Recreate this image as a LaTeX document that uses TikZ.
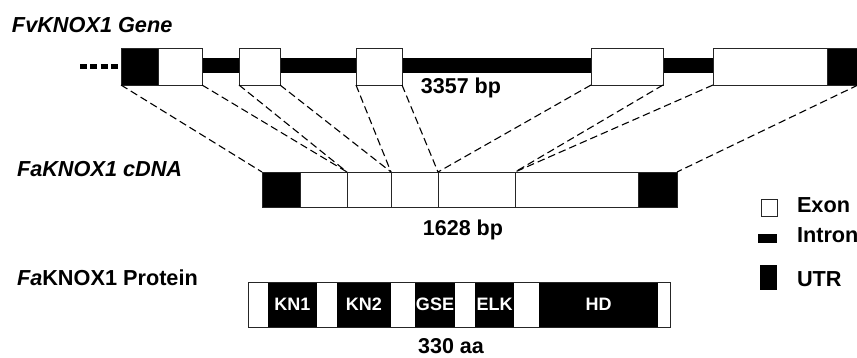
\documentclass[tikz,border=0pt]{standalone}
\usepackage{fontspec}
\setmainfont{Liberation Sans}
\usetikzlibrary{positioning}

\begin{document}
\begin{tikzpicture}[
    x=1pt, y=-1pt,
    every node/.style={inner sep=0pt, outer sep=0pt},
    gbox/.style={draw=black!85, line width=0.9pt, fill=white, anchor=north west, minimum height=37pt},
    cbox/.style={draw=black!85, line width=0.9pt, fill=white, minimum height=35pt},
    utr/.style={fill=black},
    pseg/.style={minimum height=45pt, font=\fontsize{18}{20}\selectfont\bfseries},
    dom/.style={pseg, fill=black, text=white},
    gap/.style={pseg, fill=white},
    title/.style={anchor=base west, font=\fontsize{21.7}{24}\selectfont\bfseries},
    len/.style={anchor=base, font=\fontsize{21.5}{24}\selectfont\bfseries},
    map/.style={dash pattern=on 7.5pt off 4pt, line width=1.1pt},
    dots/.style={dash pattern=on 7pt off 3.3pt, line width=5pt}
]
    \useasboundingbox (0,0) rectangle (857,357);

    % genomic gene
    \node[title] (gtitle) at (12,32) {\itshape FvKNOX1 Gene};
    \node[fill=black, anchor=north west, minimum width=670pt, minimum height=15pt] (intron) at (158,58) {};
    \node[gbox, utr, minimum width=37pt] (gu1) at (121,48) {};
    \node[gbox, minimum width=44pt] (ge1) at (158,48) {};
    \node[gbox, minimum width=41pt] (ge2) at (239,48) {};
    \node[gbox, minimum width=46pt] (ge3) at (356,48) {};
    \node[gbox, minimum width=72pt] (ge4) at (591,48) {};
    \node[gbox, minimum width=114pt] (ge5) at (713,48) {};
    \node[gbox, utr, minimum width=31pt] (gu2) at (827,48) {};
    \coordinate (upstream) at (80,66.5);
    \draw[dots] (upstream) -- (gu1.west);
    \node[len] (glen) at (461,93) {3357 bp};

    % cDNA
    \node[title] (ctitle) at (17,176) {\itshape FaKNOX1 cDNA};
    \node[cbox, utr, anchor=north west, minimum width=38pt] (cu1) at (262,172) {};
    \node[cbox, minimum width=47pt, right=0pt of cu1] (ce1) {};
    \node[cbox, minimum width=44pt, right=0pt of ce1] (ce2) {};
    \node[cbox, minimum width=47pt, right=0pt of ce2] (ce3) {};
    \node[cbox, minimum width=77pt, right=0pt of ce3] (ce4) {};
    \node[cbox, minimum width=123pt, right=0pt of ce4] (ce5) {};
    \node[cbox, utr, minimum width=39pt, right=0pt of ce5] (cu2) {};
    \node[len] (clen) at (463,235) {1628 bp};

    % exon mapping
    \draw[map] (gu1.south west) -- (cu1.north west);
    \draw[map] (ge1.south east) -- (ce2.north west);
    \draw[map] (ge2.south west) -- (ce2.north west);
    \draw[map] (ge2.south east) -- (ce3.north west);
    \draw[map] (ge3.south west) -- (ce3.north west);
    \draw[map] (ge3.south east) -- (ce4.north west);
    \draw[map] (ge4.south west) -- (ce4.north west);
    \draw[map] (ge4.south east) -- (ce5.north west);
    \draw[map] (ge5.south west) -- (ce5.north west);
    \draw[map] (gu2.south east) -- (cu2.north east);

    % protein
    \node[title] (ptitle) at (17,285) {{\itshape Fa}KNOX1 Protein};
    \node[gap, anchor=north west, minimum width=20pt] (pw0) at (248,282) {};
    \node[dom, minimum width=49pt, right=0pt of pw0] (kn1) {KN1};
    \node[gap, minimum width=20pt, right=0pt of kn1] (pw1) {};
    \node[dom, minimum width=54pt, right=0pt of pw1] (kn2) {KN2};
    \node[gap, minimum width=24pt, right=0pt of kn2] (pw2) {};
    \node[dom, minimum width=40pt, right=0pt of pw2] (gse) {GSE};
    \node[gap, minimum width=20pt, right=0pt of gse] (pw3) {};
    \node[dom, minimum width=39pt, right=0pt of pw3] (elk) {ELK};
    \node[gap, minimum width=25pt, right=0pt of elk] (pw4) {};
    \node[dom, minimum width=119pt, right=0pt of pw4] (hd) {HD};
    \node[gap, minimum width=12pt, right=0pt of hd] (pw5) {};
    \draw[draw=black!85, line width=0.9pt] (pw0.north west) rectangle (pw5.south east);
    \node[len] (plen) at (451,353) {330 aa};

    % legend
    \node[draw=black!85, line width=0.9pt, anchor=north west, minimum width=16pt, minimum height=17pt] (kexon) at (761,199) {};
    \node[fill=black, anchor=north west, minimum width=19pt, minimum height=9pt] (kintron) at (758,234) {};
    \node[fill=black, anchor=north west, minimum width=17pt, minimum height=25pt] (kutr) at (760,265) {};
    \node[title] (texon) at (797,212) {Exon};
    \node[title] (tintron) at (797,242) {Intron};
    \node[title] (tutr) at (797,286) {UTR};
\end{tikzpicture}
\end{document}
